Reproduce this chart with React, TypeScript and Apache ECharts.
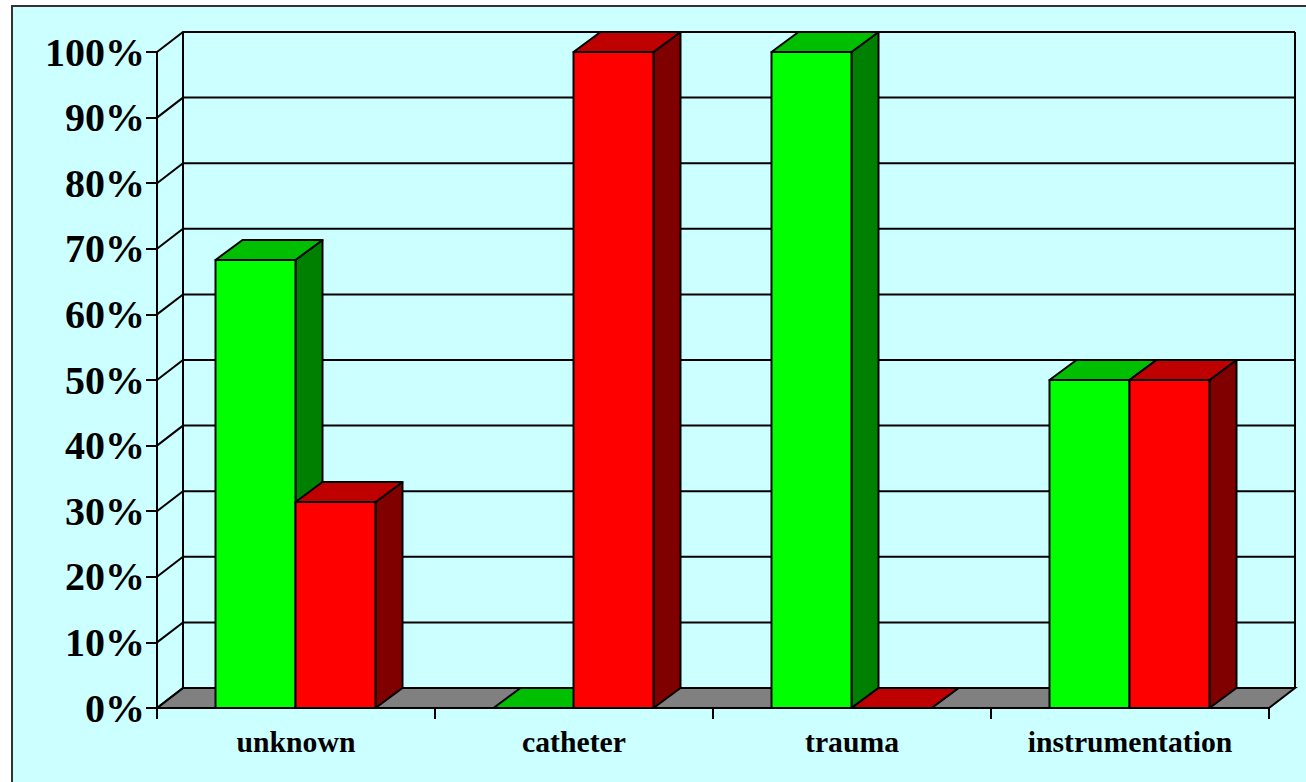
import React, { useEffect, useRef } from "react";
import * as echarts from "echarts";

const categories = ["unknown", "catheter", "trauma", "instrumentation"];
const greenValues = [68.3, 0, 100, 50];
const redValues = [31.4, 100, 0, 50];
const yTicks = [0, 10, 20, 30, 40, 50, 60, 70, 80, 90, 100];

const WALL_DX = 26;
const BAR_DX = 27;
const DY = 20;
const BAR_W = 80;
const BAR_SHIFT = -0.5;
const SERIF = '"Liberation Serif", "Times New Roman", serif';

function barRenderer(side: number, front: string, top: string, right: string) {
  return (params: any, api: any) => {
    const p = api.coord([api.value(0), api.value(1)]);
    const base = api.coord([api.value(0), 0]);
    const x0 = (side < 0 ? p[0] - BAR_W : p[0]) + BAR_SHIFT;
    const x1 = x0 + BAR_W;
    const yt = p[1];
    const yb = base[1];
    const style = (fill: string) => ({ fill, stroke: "#000", lineWidth: 2, lineJoin: "round" });
    return {
      type: "group",
      children: [
        { type: "polygon", shape: { points: [[x1, yt], [x1 + BAR_DX, yt - DY], [x1 + BAR_DX, yb - DY], [x1, yb]] }, style: style(right) },
        { type: "polygon", shape: { points: [[x0, yt], [x0 + BAR_DX, yt - DY], [x1 + BAR_DX, yt - DY], [x1, yt]] }, style: style(top) },
        { type: "rect", shape: { x: x0, y: yt, width: BAR_W, height: yb - yt }, style: style(front) },
      ],
    };
  };
}

function wallRenderer(params: any, api: any) {
  const v = api.value(1);
  const y = api.coord([0, v])[1];
  const cs = params.coordSys;
  const xl = cs.x;
  const xr = cs.x + cs.width;
  const line = { fill: "none", stroke: "#000", lineWidth: 2 };
  const children: any[] = [
    { type: "polyline", shape: { points: [[xl, y], [xl + WALL_DX, y - DY], [xr + WALL_DX, y - DY]] }, style: line },
  ];
  if (v === 0) {
    children.unshift({
      type: "polygon",
      shape: { points: [[xl, y], [xl + WALL_DX, y - DY], [xr + WALL_DX, y - DY], [xr, y]] },
      style: { fill: "#808080", stroke: "#000", lineWidth: 2 },
    });
    const top = api.coord([0, 100])[1];
    children.push(
      { type: "line", shape: { x1: xl + WALL_DX, y1: y - DY, x2: xl + WALL_DX, y2: top - DY }, style: { stroke: "#000", lineWidth: 2 } },
      { type: "line", shape: { x1: xr + WALL_DX, y1: y - DY, x2: xr + WALL_DX, y2: top - DY }, style: { stroke: "#000", lineWidth: 2 } }
    );
  }
  return { type: "group", children };
}

export default function App() {
  const ref = useRef<HTMLDivElement>(null);
  useEffect(() => {
    const chart = echarts.init(ref.current!, undefined, { renderer: "svg" });
    const axisStyle = { color: "#000", width: 2 };
    chart.setOption({
      animation: false,
      backgroundColor: "#ffffff",
      graphic: [
        {
          type: "rect",
          z: -10,
          shape: { x: 12, y: 6, width: 1400, height: 900 },
          style: { fill: "#CCFFFF", stroke: "#333333", lineWidth: 2 },
        },
      ],
      grid: { left: 157, top: 52, width: 1112, height: 656 },
      xAxis: {
        type: "category",
        data: categories,
        axisLine: { lineStyle: axisStyle },
        axisTick: { show: true, length: 11, lineStyle: axisStyle, alignWithLabel: false },
        axisLabel: { color: "#000", fontFamily: SERIF, fontWeight: "bold", fontSize: 29.7, margin: 19, interval: 0 },
        splitLine: { show: false },
      },
      yAxis: {
        type: "value",
        min: 0,
        max: 100,
        interval: 10,
        axisLine: { show: true, lineStyle: axisStyle },
        axisTick: { show: true, length: 11, lineStyle: axisStyle },
        axisLabel: { color: "#000", fontFamily: SERIF, fontWeight: "bold", fontSize: 40, margin: 12, padding: [0, 0, 8, 0], formatter: "{value}%" },
        splitLine: { show: false },
      },
      series: [
        {
          type: "custom",
          z: 2,
          silent: true,
          clip: false,
          coordinateSystem: "cartesian2d",
          renderItem: wallRenderer,
          encode: { x: 0, y: 1 },
          data: yTicks.map((v) => [0, v]),
        },
        {
          type: "custom",
          name: "green",
          z: 3,
          silent: true,
          clip: false,
          renderItem: barRenderer(-1, "#00FF00", "#00BF00", "#008000"),
          encode: { x: 0, y: 1 },
          data: greenValues.map((v, i) => [i, v]),
        },
        {
          type: "custom",
          name: "red",
          z: 4,
          silent: true,
          clip: false,
          renderItem: barRenderer(1, "#FF0000", "#BF0000", "#800000"),
          encode: { x: 0, y: 1 },
          data: redValues.map((v, i) => [i, v]),
        },
      ],
    });
    return () => chart.dispose();
  }, []);
  return <div ref={ref} style={{ position: "absolute", left: 0, top: 0, width: 1306, height: 782 }} />;
}
